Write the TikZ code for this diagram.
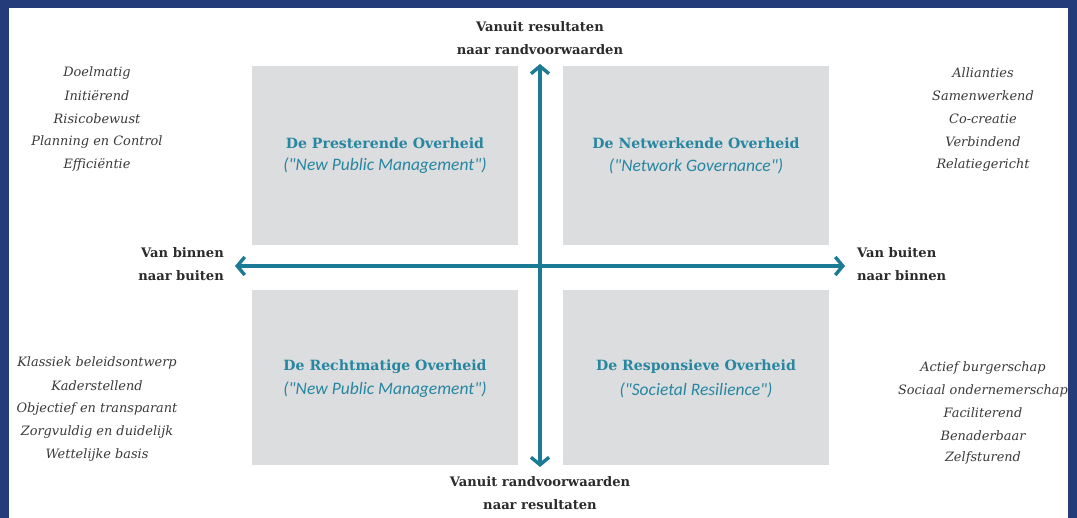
\documentclass[tikz,border=0pt]{standalone}
\usepackage{fontspec}
\setmainfont{DejaVu Serif}
\newfontfamily\subfont{Carlito}
\usetikzlibrary{arrows.meta}
\definecolor{navy}{HTML}{243C7A}
\definecolor{teal}{HTML}{1B7A94}
\definecolor{ttl}{HTML}{2786A0}
\definecolor{boxgray}{HTML}{DCDDDF}
\definecolor{txt}{HTML}{3A3A3A}
\definecolor{lbl}{HTML}{2B2B2B}
\tikzset{
  quad/.style={fill=boxgray, draw=none},
  ttlnode/.style={text=ttl, font=\fontsize{14.1}{17}\selectfont\bfseries, inner sep=0pt},
  subnode/.style={text=ttl, font=\subfont\fontsize{17.5}{21}\selectfont\itshape, inner sep=0pt},
  trait/.style={text=txt, font=\fontsize{12.9}{15}\selectfont\itshape, align=center, inner sep=0pt},
  axislbl/.style={text=lbl, font=\fontsize{13.1}{16}\selectfont\bfseries, inner sep=0pt},
  axisarrow/.style={draw=teal, line width=3.8pt, {Straight Barb[length=7.5pt,width=18pt,line width=3.4pt]}-{Straight Barb[length=7.5pt,width=18pt,line width=3.4pt]}}
}
\begin{document}
\begin{tikzpicture}[x=1pt,y=-1pt]
\useasboundingbox (0,0) rectangle (1077,518);
\fill[navy] (0,0) rectangle (1077,518);
\fill[white] (9,8) rectangle (1068,518);
% quadrants
\path[quad] (252,66) rectangle (518,245);
\path[quad] (563,66) rectangle (829,245);
\path[quad] (252,290) rectangle (518,465);
\path[quad] (563,290) rectangle (829,465);
% axis end points
\coordinate (top) at (540,64);
\coordinate (bot) at (540,467);
\coordinate (lft) at (235,266);
\coordinate (rgt) at (845,266);
\draw[axisarrow] (bot) -- (top);
\draw[axisarrow] (lft) -- (rgt);
% quadrant titles
\node[ttlnode] (t1) at (385,143) {De Presterende Overheid};
\node[subnode] (s1) at (385,166) {("New Public Management")};
\node[ttlnode] (t2) at (696,143) {De Netwerkende Overheid};
\node[subnode] (s2) at (696,166) {("Network Governance")};
\node[ttlnode] (t3) at (385,367) {De Rechtmatige Overheid};
\node[subnode] (s3) at (385,390) {("New Public Management")};
\node[ttlnode] (t4) at (696,367) {De Responsieve Overheid};
\node[subnode] (s4) at (696,390) {("Societal Resilience")};
% axis labels
\node[axislbl] (a1) at (540,27) {Vanuit resultaten};
\node[axislbl] (a2) at (540,50) {naar randvoorwaarden};
\node[axislbl] (a3) at (540,482) {Vanuit randvoorwaarden};
\node[axislbl] (a4) at (540,505) {naar resultaten};
\node[axislbl, anchor=east] (a5) at (224,253) {Van binnen};
\node[axislbl, anchor=east] (a6) at (224,276) {naar buiten};
\node[axislbl, anchor=west] (a7) at (857,253) {Van buiten};
\node[axislbl, anchor=west] (a8) at (857,276) {naar binnen};
% traits
\node[trait] (l1) at (97,73) {Doelmatig};
\node[trait] (l2) at (97,96) {Initiërend};
\node[trait] (l3) at (97,119) {Risicobewust};
\node[trait] (l4) at (97,142) {Planning en Control};
\node[trait] (l5) at (97,165) {Efficiëntie};
\node[trait] (r1) at (983,73) {Allianties};
\node[trait] (r2) at (983,96) {Samenwerkend};
\node[trait] (r3) at (983,119) {Co-creatie};
\node[trait] (r4) at (983,142) {Verbindend};
\node[trait] (r5) at (983,165) {Relatiegericht};
\node[trait] (b1) at (97,363) {Klassiek beleidsontwerp};
\node[trait] (b2) at (97,386) {Kaderstellend};
\node[trait] (b3) at (97,409) {Objectief en transparant};
\node[trait] (b4) at (97,432) {Zorgvuldig en duidelijk};
\node[trait] (b5) at (97,455) {Wettelijke basis};
\node[trait] (c1) at (983,368) {Actief burgerschap};
\node[trait] (c2) at (983,391) {Sociaal ondernemerschap};
\node[trait] (c3) at (983,413) {Faciliterend};
\node[trait] (c4) at (983,436) {Benaderbaar};
\node[trait] (c5) at (983,458) {Zelfsturend};
\end{tikzpicture}
\end{document}
